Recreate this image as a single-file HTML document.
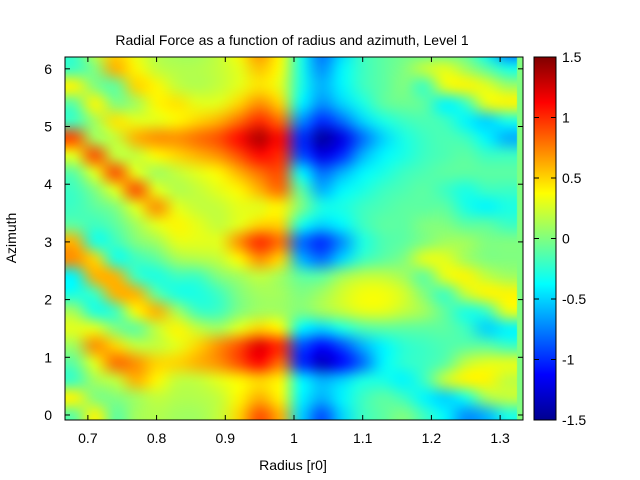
<!DOCTYPE html>
<html><head><meta charset="utf-8"><style>
body{margin:0;background:#fff;width:640px;height:480px;overflow:hidden;font-family:"Liberation Sans",sans-serif;}
#wrap{position:relative;width:640px;height:480px;}
canvas,svg{position:absolute;left:0;top:0;}
</style></head><body>
<div id="wrap">
<canvas id="hm" width="640" height="480"></canvas>
<svg id="ov" width="640" height="480">
<defs><linearGradient id="jet" x1="0" y1="1" x2="0" y2="0">
<stop offset="0" stop-color="#00008f"/><stop offset="0.125" stop-color="#0000ff"/><stop offset="0.375" stop-color="#00ffff"/><stop offset="0.625" stop-color="#ffff00"/><stop offset="0.875" stop-color="#ff0000"/><stop offset="1" stop-color="#800000"/></linearGradient></defs>
<text x="292" y="45" text-anchor="middle" font-size="14">Radial Force as a function of radius and azimuth, Level 1</text>
<text x="293" y="470" text-anchor="middle" font-size="14">Radius [r0]</text>
<text x="16" y="238" text-anchor="middle" font-size="14" transform="rotate(-90 16 238)">Azimuth</text>
<rect x="534" y="57" width="22" height="363" fill="url(#jet)" stroke="#000" stroke-width="1"/>
<g id="axes"></g>
</svg>
</div>
<script>
const radii=[0.68,0.71,0.74,0.77,0.80,0.83,0.86,0.89,0.92,0.95,0.98,1.01,1.04,1.07,1.10,1.13,1.16,1.19,1.22,1.25,1.28,1.31];
const azimuths=[6.3,6.0,5.7,5.4,5.1,4.8,4.5,4.2,3.9,3.6,3.3,3.0,2.7,2.4,2.1,1.8,1.5,1.2,0.9,0.6,0.3,0.0];
const forceGrid=[
[-0.2,0.2,0.5,0.3,0.15,0.1,0.1,0.2,0.4,0.7,0.4,-0.3,-0.8,-0.5,-0.2,-0.1,-0.05,-0.1,-0.1,-0.1,-0.4,-0.8],
[-0.2,0.0,0.6,0.4,0.2,0.15,0.15,0.2,0.3,0.55,0.35,-0.3,-0.7,-0.4,-0.2,-0.1,0.0,0.2,0.3,0.1,-0.1,-0.3],
[0.4,0.0,-0.1,0.5,0.4,0.2,0.15,0.2,0.3,0.45,0.3,-0.3,-0.6,-0.4,-0.2,-0.1,0.0,-0.2,0.3,0.4,0.3,0.1],
[-0.1,0.4,0.0,0.1,0.4,0.45,0.3,0.3,0.5,0.7,0.5,-0.4,-0.7,-0.5,-0.3,-0.1,-0.05,-0.1,-0.4,-0.2,0.3,0.4],
[-0.2,0.1,0.45,0.3,0.3,0.4,0.5,0.6,0.8,1.0,0.8,-0.7,-1.0,-0.8,-0.5,-0.3,-0.2,-0.15,-0.2,-0.4,-0.5,-0.3],
[0.9,0.1,0.2,0.6,0.7,0.7,0.8,0.9,1.1,1.35,1.1,-1.0,-1.4,-1.2,-0.8,-0.5,-0.3,-0.2,-0.15,-0.2,-0.4,-0.6],
[0.3,0.9,0.2,0.2,0.4,0.5,0.6,0.7,0.9,1.1,1.0,-0.9,-1.2,-1.0,-0.6,-0.4,-0.3,-0.2,-0.15,-0.1,-0.2,-0.2],
[-0.1,0.3,0.9,0.3,0.1,0.2,0.3,0.4,0.6,0.8,0.9,-0.4,-0.8,-0.6,-0.4,-0.3,-0.2,-0.15,-0.1,-0.1,-0.1,-0.1],
[-0.2,0.0,0.3,0.9,0.3,0.15,0.2,0.3,0.4,0.6,0.8,-0.1,-0.6,-0.4,-0.3,-0.2,-0.15,-0.1,-0.2,-0.3,-0.2,-0.2],
[-0.2,-0.1,0.0,0.3,0.7,0.3,0.2,0.2,0.3,0.3,0.4,0.0,-0.3,-0.3,-0.2,-0.15,-0.1,-0.1,-0.1,-0.3,-0.4,-0.3],
[-0.1,-0.2,-0.1,0.1,0.3,0.4,0.3,0.2,0.3,0.5,0.5,-0.3,-0.5,-0.4,-0.2,-0.1,-0.1,0.0,0.0,-0.1,-0.1,-0.2],
[0.6,-0.3,-0.2,0.0,0.1,0.3,0.3,0.3,0.7,1.0,0.8,-0.8,-1.0,-0.7,-0.3,-0.15,-0.1,0.0,0.1,0.1,0.0,0.0],
[0.7,0.5,-0.3,-0.2,-0.1,0.1,0.15,0.2,0.4,0.7,0.5,-0.6,-0.8,-0.5,-0.2,-0.1,0.0,0.3,0.3,0.1,0.0,0.0],
[-0.4,0.6,0.6,-0.2,-0.3,-0.2,-0.2,0.0,0.1,0.2,0.1,-0.1,-0.1,0.1,0.2,0.2,0.1,-0.1,0.3,0.4,0.2,0.1],
[-0.3,-0.2,0.6,0.6,-0.1,-0.3,-0.3,-0.2,0.0,0.1,0.1,0.0,0.1,0.25,0.35,0.35,0.25,0.0,-0.2,0.2,0.4,0.4],
[0.1,-0.3,-0.2,0.4,0.6,0.1,-0.2,-0.2,0.0,0.1,0.1,0.0,0.1,0.2,0.3,0.3,0.2,0.1,-0.1,-0.3,-0.2,0.3],
[0.3,0.3,0.0,-0.1,0.2,0.4,0.2,0.1,0.3,0.5,0.4,-0.4,-0.5,-0.3,-0.15,-0.1,-0.1,-0.1,-0.1,-0.2,-0.5,-0.4],
[0.1,0.7,0.5,0.2,0.2,0.3,0.5,0.7,0.9,1.2,1.0,-0.9,-1.1,-0.9,-0.6,-0.4,-0.25,-0.2,-0.15,-0.1,-0.1,-0.2],
[-0.1,0.3,0.8,0.7,0.5,0.5,0.6,0.7,0.9,1.1,0.8,-1.0,-1.3,-1.1,-0.8,-0.4,-0.25,-0.2,-0.1,0.2,0.3,0.3],
[-0.2,0.1,0.2,0.6,0.4,0.2,0.2,0.3,0.4,0.5,0.4,-0.4,-0.6,-0.5,-0.3,-0.3,-0.4,-0.2,0.2,0.4,0.4,0.2],
[0.4,0.0,0.0,0.1,0.2,0.15,0.15,0.2,0.4,0.6,0.4,-0.4,-0.6,-0.4,-0.2,-0.1,-0.2,-0.4,-0.5,-0.3,0.1,0.2],
[-0.1,0.4,-0.1,0.1,0.15,0.1,0.1,0.2,0.5,0.9,0.6,-0.5,-0.9,-0.5,-0.2,-0.1,0.0,-0.2,-0.4,-0.7,-0.6,-0.3]
];
const xTicks=[0.7,0.8,0.9,1,1.1,1.2,1.3];
const xTickLabels=["0.7","0.8","0.9","1","1.1","1.2","1.3"];
const yTicks=[0,1,2,3,4,5,6];
const cbTicks=[1.5,1,0.5,0,-0.5,-1,-1.5];
const cbTickLabels=["1.5","1","0.5","0","-0.5","-1","-1.5"];

const PL=65,PR=523,PT=57,PB=420;
const X0=0.6667,X1=1.3333,Y0=-0.087,Y1=6.205;
const C0=-1.5,C1=1.5;
function xs(v){return PL+(v-X0)/(X1-X0)*(PR-PL);}
function ys(v){return PB-(v-Y0)/(Y1-Y0)*(PB-PT);}
function cs(v){return PB-(v-C0)/(C1-C0)*(PB-PT);}
function jet(v){
  let t=(v-C0)/(C1-C0);t=Math.max(0,Math.min(1,t));
  const f=(x)=>Math.max(0,Math.min(1,1.5-Math.abs(4*t-x)));
  return [f(3)*255,f(2)*255,f(1)*255];
}
const cv=document.getElementById('hm');const ctx=cv.getContext('2d');
const off=document.createElement('canvas');off.width=radii.length;off.height=azimuths.length;
const oc=off.getContext('2d');const img=oc.createImageData(radii.length,azimuths.length);
for(let j=0;j<azimuths.length;j++)for(let i=0;i<radii.length;i++){
  const c=jet(forceGrid[j][i]);const k=(j*radii.length+i)*4;
  img.data[k]=c[0];img.data[k+1]=c[1];img.data[k+2]=c[2];img.data[k+3]=255;}
oc.putImageData(img,0,0);
const dr=radii[1]-radii[0],da=azimuths[0]-azimuths[1];
const dx0=xs(radii[0]-dr/2),dx1=xs(radii[radii.length-1]+dr/2);
const dy0=ys(azimuths[0]+da/2),dy1=ys(azimuths[azimuths.length-1]-da/2);
ctx.save();ctx.beginPath();ctx.rect(PL,PT,PR-PL,PB-PT);ctx.clip();
ctx.fillStyle='#80ff80';ctx.fillRect(PL,PT,PR-PL,PB-PT);
ctx.imageSmoothingEnabled=true;ctx.imageSmoothingQuality='high';
ctx.drawImage(off,dx0,dy0,dx1-dx0,dy1-dy0);ctx.restore();

const NS='http://www.w3.org/2000/svg';const g=document.getElementById('axes');
function mk(tag,attrs){const e=document.createElementNS(NS,tag);for(const k in attrs)e.setAttribute(k,attrs[k]);g.appendChild(e);return e;}
const frame=mk('rect',{x:PL,y:PT,width:PR-PL,height:PB-PT,fill:'none',stroke:'#000','stroke-width':1});


xTicks.forEach((v,i)=>{const x=xs(v);
  const t1=mk('line',{x1:x,y1:PB,x2:x,y2:PB-5,stroke:'#000'});
  
  
  const t2=mk('line',{x1:x,y1:PT,x2:x,y2:PT+5,stroke:'#000'});
  
  
  const l=mk('text',{x:x,y:443,'text-anchor':'middle','font-size':14});l.textContent=xTickLabels[i];
  
  });
yTicks.forEach(v=>{const y=ys(v);
  const t1=mk('line',{x1:PL,y1:y,x2:PL+5,y2:y,stroke:'#000'});
  
  
  const t2=mk('line',{x1:PR,y1:y,x2:PR-5,y2:y,stroke:'#000'});
  
  
  const l=mk('text',{x:52,y:y+5,'text-anchor':'end','font-size':14});l.textContent=String(v);
  
  });
cbTicks.forEach((v,i)=>{const y=cs(v);
  const t1=mk('line',{x1:534,y1:y,x2:539,y2:y,stroke:'#000'});
  
  
  const t2=mk('line',{x1:556,y1:y,x2:551,y2:y,stroke:'#000'});
  
  
  const l=mk('text',{x:562,y:y+5,'text-anchor':'start','font-size':14});l.textContent=cbTickLabels[i];
  
  });
</script>
</body></html>
